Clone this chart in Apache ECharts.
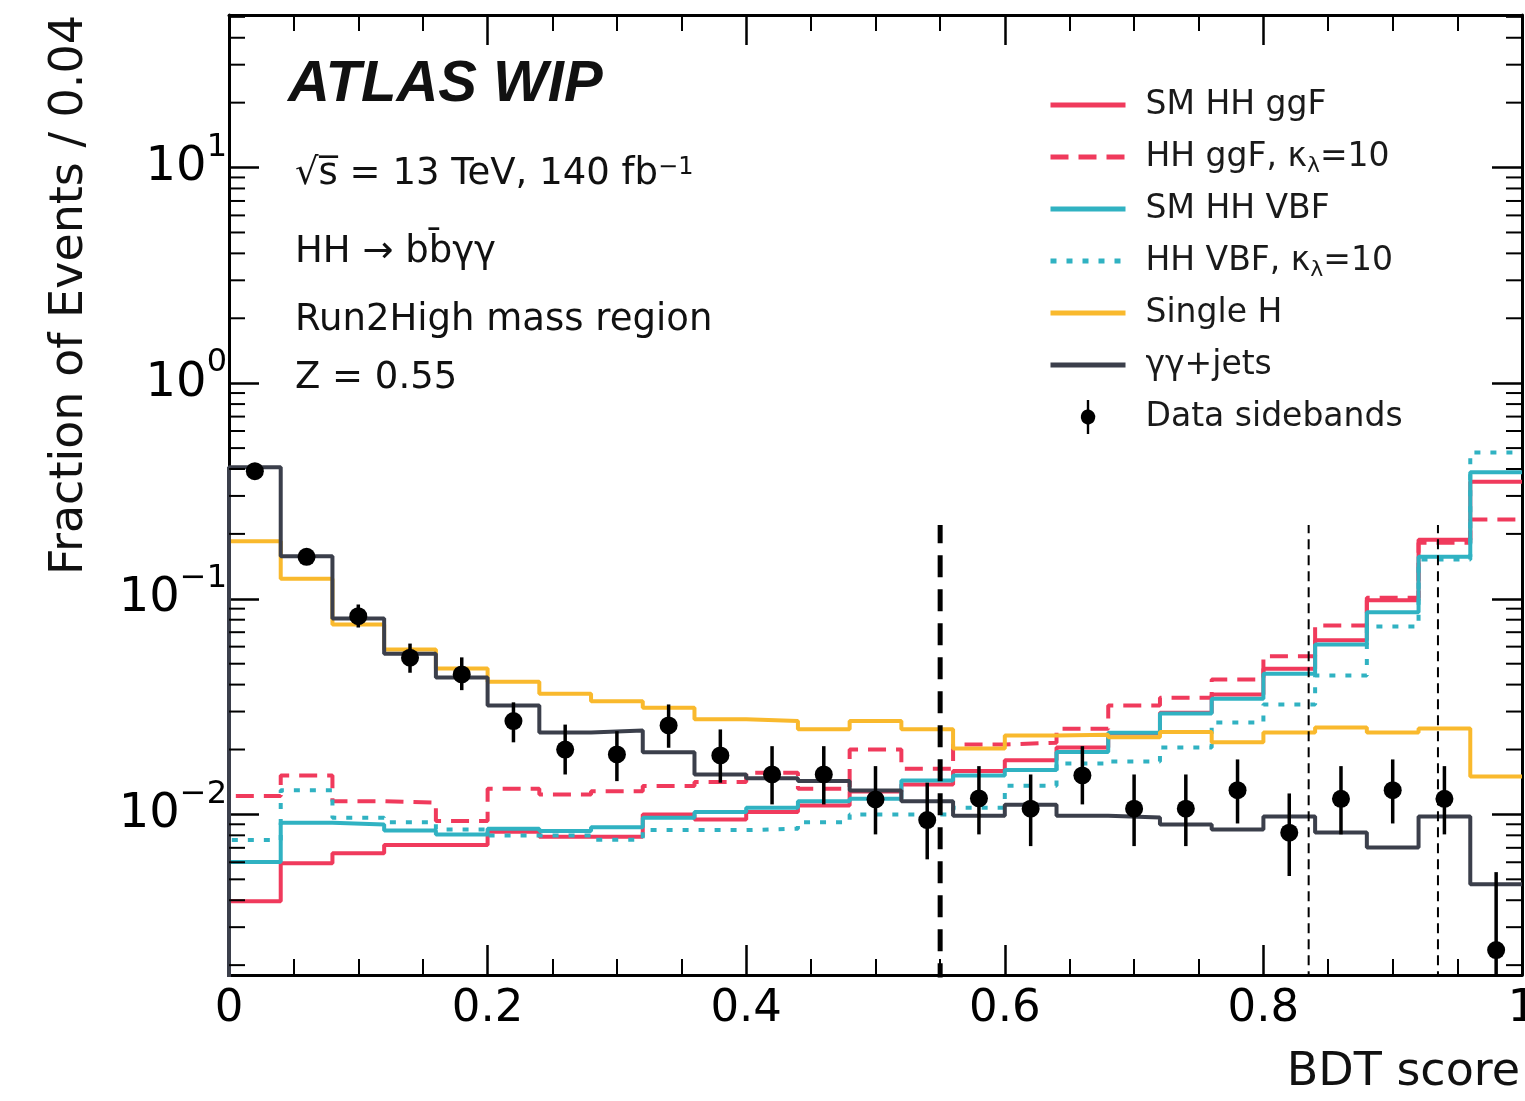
<!DOCTYPE html>
<html>
<head>
<meta charset="utf-8">
<title>BDT score</title>
<script src="https://cdn.jsdelivr.net/npm/echarts@6/dist/echarts.min.js"></script>
<style>
  html, body { margin: 0; padding: 0; background: #fff; }
  #main { width: 1525px; height: 1101px; }
</style>
</head>
<body>
<div id="main"></div>
<script>
  // bin edges of the BDT score histogram (0.04 wide)
  var binEdges = [0, 0.04, 0.08, 0.12, 0.16, 0.2, 0.24, 0.28, 0.32, 0.36, 0.4, 0.44, 0.48,
    0.52, 0.56, 0.6, 0.64, 0.68, 0.72, 0.76, 0.8, 0.84, 0.88, 0.92, 0.96, 1.0];

  // fraction of events per bin
  var smGgF = [0.00396, 0.00593, 0.00660, 0.00721, 0.00721, 0.00831, 0.00788, 0.00788, 0.0100, 0.00948,
    0.01025, 0.01101, 0.01278, 0.01377, 0.01588, 0.01785, 0.02045, 0.02374, 0.02961, 0.0360,
    0.0474, 0.0643, 0.0985, 0.188, 0.349];
  var ggFkl10 = [0.01216, 0.01516, 0.01152, 0.01133, 0.00931, 0.01316, 0.01238, 0.01282, 0.01353, 0.01412,
    0.01561, 0.01316, 0.0200, 0.01629, 0.02111, 0.0215, 0.02496, 0.0320, 0.03475, 0.04225,
    0.0542, 0.0752, 0.101, 0.182, 0.233];
  var smVbf = [0.00601, 0.00915, 0.00899, 0.00843, 0.00808, 0.00859, 0.00837, 0.00873, 0.00965, 0.01025,
    0.01074, 0.01152, 0.01182, 0.01438, 0.01516, 0.01605, 0.01949, 0.02392, 0.02939, 0.03439,
    0.0449, 0.0614, 0.0867, 0.1565, 0.386];
  var vbfKl10 = [0.0076, 0.01296, 0.00965, 0.00921, 0.00852, 0.00799, 0.00799, 0.00763, 0.00846, 0.00846,
    0.00859, 0.00921, 0.0100, 0.0100, 0.01074, 0.0136, 0.01723, 0.01761, 0.02045, 0.02671,
    0.03236, 0.0441, 0.0744, 0.152, 0.477];
  var singleH = [0.185, 0.1238, 0.0760, 0.0582, 0.0475, 0.0412, 0.0363, 0.0335, 0.0312, 0.0276,
    0.0271, 0.0248, 0.0271, 0.0248, 0.0202, 0.0232, 0.0234, 0.0228, 0.0241, 0.0216,
    0.0240, 0.0253, 0.0240, 0.0250, 0.0150];
  var yyJets = [0.407, 0.1576, 0.0811, 0.0556, 0.0431, 0.0320, 0.0240, 0.0245, 0.0194, 0.0153,
    0.0147, 0.0143, 0.0129, 0.0115, 0.00985, 0.0111, 0.00985, 0.00967, 0.00899, 0.00852,
    0.00979, 0.00825, 0.00703, 0.00979, 0.00474];

  // data sidebands: bin centres, value, error bar low / high
  var dataX = [0.02, 0.06, 0.10, 0.14, 0.18, 0.22, 0.26, 0.30, 0.34, 0.38, 0.42, 0.46, 0.50,
    0.54, 0.58, 0.62, 0.66, 0.70, 0.74, 0.78, 0.82, 0.86, 0.90, 0.94, 0.98];
  var dataY = [0.3905, 0.1565, 0.0831, 0.0533, 0.0446, 0.0271, 0.0200, 0.01897, 0.02586, 0.01877,
    0.01532, 0.01532, 0.01174, 0.00941, 0.01186, 0.01063, 0.01516, 0.01063, 0.01063, 0.01296,
    0.00823, 0.01182, 0.01296, 0.01182, 0.00235];
  var dataLo = [0.378, 0.151, 0.0736, 0.0454, 0.0377, 0.0216, 0.01532, 0.01427, 0.02038, 0.01403,
    0.01113, 0.01113, 0.00808, 0.00619, 0.00808, 0.00713, 0.01113, 0.00713, 0.00713, 0.00908,
    0.00518, 0.00808, 0.00908, 0.00808, 0.0008];
  var dataHi = [0.403, 0.162, 0.0941, 0.0620, 0.0535, 0.0331, 0.0261, 0.02433, 0.03236, 0.02478,
    0.02073, 0.02073, 0.01675, 0.01403, 0.01675, 0.01532, 0.02073, 0.01532, 0.01532, 0.01799,
    0.01251, 0.01675, 0.01799, 0.01675, 0.0054];

  // vertical cut lines
  var cutMain = [0.55];
  var cutOther = [0.835, 0.935];
  var cutTop = 0.22;

  var xTicks = [0, 0.2, 0.4, 0.6, 0.8, 1];
  var yMinorTicks = [0.002, 0.003, 0.004, 0.005, 0.006, 0.007, 0.008, 0.009,
    0.02, 0.03, 0.04, 0.05, 0.06, 0.07, 0.08, 0.09,
    0.2, 0.3, 0.4, 0.5, 0.6, 0.7, 0.8, 0.9,
    2, 3, 4, 5, 6, 7, 8, 9, 20, 30, 40, 50];

  var yMin = 0.0018, yMax = 51;
  var FONT = 'DejaVu Sans';

  // histogram as step line, starting from the floor at x = 0
  function stepData(vals) {
    var pts = [[binEdges[0], 1e-5]];
    for (var i = 0; i < vals.length; i++) pts.push([binEdges[i], vals[i]]);
    pts.push([binEdges[binEdges.length - 1], vals[vals.length - 1]]);
    return pts;
  }

  function histo(name, vals, color, type, z) {
    return {
      name: name, type: 'line', step: 'end', symbol: 'none', clip: true, z: z,
      data: stepData(vals),
      lineStyle: { color: color, width: 4, type: type, cap: 'butt' },
      itemStyle: { color: color }
    };
  }

  function cutLine(x, width, dash, z) {
    return {
      type: 'line', symbol: 'none', silent: true, clip: true, z: z,
      data: [[x, 1e-5], [x, cutTop]],
      lineStyle: { color: '#000', width: width, type: dash }
    };
  }

  var chart = echarts.init(document.getElementById('main'));

  var series = [
    histo('SM HH ggF', smGgF, '#f03a5c', 'solid', 3),
    histo('HH ggF, κλ=10', ggFkl10, '#f03a5c', [18, 10], 3),
    histo('SM HH VBF', smVbf, '#30b2c2', 'solid', 4),
    histo('HH VBF, κλ=10', vbfKl10, '#30b2c2', [6, 10], 4),
    histo('Single H', singleH, '#f9b92d', 'solid', 5),
    histo('γγ+jets', yyJets, '#3b3f4b', 'solid', 6)
  ];
  cutMain.forEach(function (x) { series.push(cutLine(x, 5, [22, 12], 7)); });
  cutOther.forEach(function (x) { series.push(cutLine(x, 2, [10, 6], 7)); });

  series.push({
    name: 'errbars', type: 'custom', clip: true, z: 8, silent: true,
    data: dataX.map(function (x, i) { return [x, dataLo[i], dataHi[i]]; }),
    encode: { x: 0, y: [1, 2] },
    renderItem: function (params, api) {
      var p1 = api.coord([api.value(0), api.value(1)]);
      var p2 = api.coord([api.value(0), api.value(2)]);
      return { type: 'line', shape: { x1: p1[0], y1: p1[1], x2: p2[0], y2: p2[1] },
        style: { stroke: '#000', lineWidth: 3.5 } };
    }
  });
  series.push({
    name: 'Data sidebands', type: 'scatter', z: 9, symbolSize: 18, clip: true,
    data: dataX.map(function (x, i) { return [x, dataY[i]]; }),
    itemStyle: { color: '#000', opacity: 1 }
  });
  // minor ticks of the log axis on both sides
  series.push({
    name: 'yminor', type: 'custom', silent: true, z: 10,
    data: yMinorTicks.map(function (v) { return [0, v]; }),
    encode: { x: 0, y: 1 },
    renderItem: function (params, api) {
      var l = api.coord([0, api.value(1)]);
      var r = api.coord([1, api.value(1)]);
      return { type: 'group', children: [
        { type: 'line', shape: { x1: l[0], y1: l[1], x2: l[0] + 16, y2: l[1] }, style: { stroke: '#000', lineWidth: 2 } },
        { type: 'line', shape: { x1: r[0] - 16, y1: r[1], x2: r[0], y2: r[1] }, style: { stroke: '#000', lineWidth: 2 } }
      ] };
    }
  });

  var xAxisBase = {
    type: 'value', min: 0, max: 1, interval: 0.2,
    axisLine: { show: true, onZero: false, lineStyle: { color: '#000', width: 3 } },
    axisTick: { show: true, inside: true, length: 30, lineStyle: { color: '#000', width: 2.5 } },
    minorTick: { show: true, splitNumber: 4, length: 16, lineStyle: { color: '#000', width: 2 } },
    splitLine: { show: false }
  };
  var yAxisBase = {
    type: 'log', logBase: 10, min: yMin, max: yMax,
    axisLine: { show: true, onZero: false, lineStyle: { color: '#000', width: 3 } },
    axisTick: { show: true, inside: true, length: 30, lineStyle: { color: '#000', width: 2.5 } },
    splitLine: { show: false }
  };

  function supLabel(v) {
    var e = Math.log10(v);
    var r = Math.round(e);
    if (Math.abs(e - r) > 1e-6) return '';
    return '{b|10}{s|' + String(r).replace('-', '−') + '}';
  }

  chart.setOption({
    animation: false,
    backgroundColor: '#fff',
    grid: { left: 229, right: 3, top: 15, bottom: 126, outerBoundsMode: 'none', containLabel: false },
    xAxis: [
      Object.assign({}, xAxisBase, {
        position: 'bottom',
        axisLabel: {
          show: true, margin: 12, color: '#000', fontFamily: FONT, fontSize: 45,
          showMinLabel: true, showMaxLabel: true,
          formatter: function (v) {
            for (var i = 0; i < xTicks.length; i++) {
              if (Math.abs(v - xTicks[i]) < 1e-9) return String(xTicks[i]);
            }
            return '';
          }
        }
      }),
      Object.assign({}, xAxisBase, { position: 'top', axisLabel: { show: false } })
    ],
    yAxis: [
      Object.assign({}, yAxisBase, {
        position: 'left',
        axisLabel: {
          show: true, margin: 2, color: '#000', formatter: supLabel,
          rich: {
            b: { fontFamily: FONT, fontSize: 48, lineHeight: 72, color: '#000' },
            s: { fontFamily: FONT, fontSize: 32, lineHeight: 34, verticalAlign: 'top', color: '#000' }
          }
        }
      }),
      Object.assign({}, yAxisBase, { position: 'right', axisLabel: { show: false } })
    ],
    legend: {
      orient: 'vertical', left: 1043, top: 80,
      itemWidth: 75, itemHeight: 34, itemGap: 12,
      selectedMode: false,
      itemStyle: { opacity: 0 },
      lineStyle: { width: 5 },
      data: [
        { name: 'SM HH ggF' },
        { name: 'HH ggF, κλ=10' },
        { name: 'SM HH VBF' },
        { name: 'HH VBF, κλ=10' },
        { name: 'Single H' },
        { name: 'γγ+jets' },
        { name: 'Data sidebands', itemStyle: { opacity: 1, color: '#000' },
          icon: 'path://M8.6,0 L11.4,0 L11.4,11.2 A9,9 0 0 1 11.4,28.8 L11.4,40 L8.6,40 L8.6,28.8 A9,9 0 0 1 8.6,11.2 Z' }
      ],
      formatter: function (name) { return name.replace('κλ', 'κ{sub|λ}'); },
      textStyle: {
        fontFamily: FONT, fontSize: 33, lineHeight: 40, color: '#1a1a1a', padding: [0, 0, 0, 15],
        rich: {
          sub: { fontFamily: FONT, fontSize: 22, lineHeight: 24, verticalAlign: 'bottom', color: '#1a1a1a' }
        }
      }
    },
    graphic: [
      { type: 'text', left: 288, top: 56,
        style: { text: 'ATLAS WIP', fontFamily: 'Liberation Sans', fontWeight: 'bold', fontStyle: 'italic', fontSize: 58, fill: '#111' } },
      { type: 'text', left: 295, top: 156,
        style: { text: '√s\u0305 = 13 TeV, 140 fb{sup|−1}', fontFamily: FONT, fontSize: 37, fill: '#111',
          rich: { sup: { fontFamily: FONT, fontSize: 24, verticalAlign: 'top', lineHeight: 24, fill: '#111' } } } },
      { type: 'text', left: 295, top: 234,
        style: { text: 'HH → bb\u0304γγ', fontFamily: FONT, fontSize: 37, fill: '#111' } },
      { type: 'text', left: 295, top: 302,
        style: { text: 'Run2High mass region', fontFamily: FONT, fontSize: 37, fill: '#111' } },
      { type: 'text', left: 295, top: 360,
        style: { text: 'Z = 0.55', fontFamily: FONT, fontSize: 37, fill: '#111' } },
      { type: 'text', x: 70, y: 15, rotation: Math.PI / 2,
        style: { text: 'Fraction of Events / 0.04', fontFamily: FONT, fontSize: 46, fill: '#111',
          align: 'right', verticalAlign: 'middle' } },
      { type: 'text', x: 1520, y: 1073,
        style: { text: 'BDT score', fontFamily: FONT, fontSize: 46, fill: '#111',
          align: 'right', verticalAlign: 'middle' } }
    ],
    series: series
  });
</script>
</body>
</html>
